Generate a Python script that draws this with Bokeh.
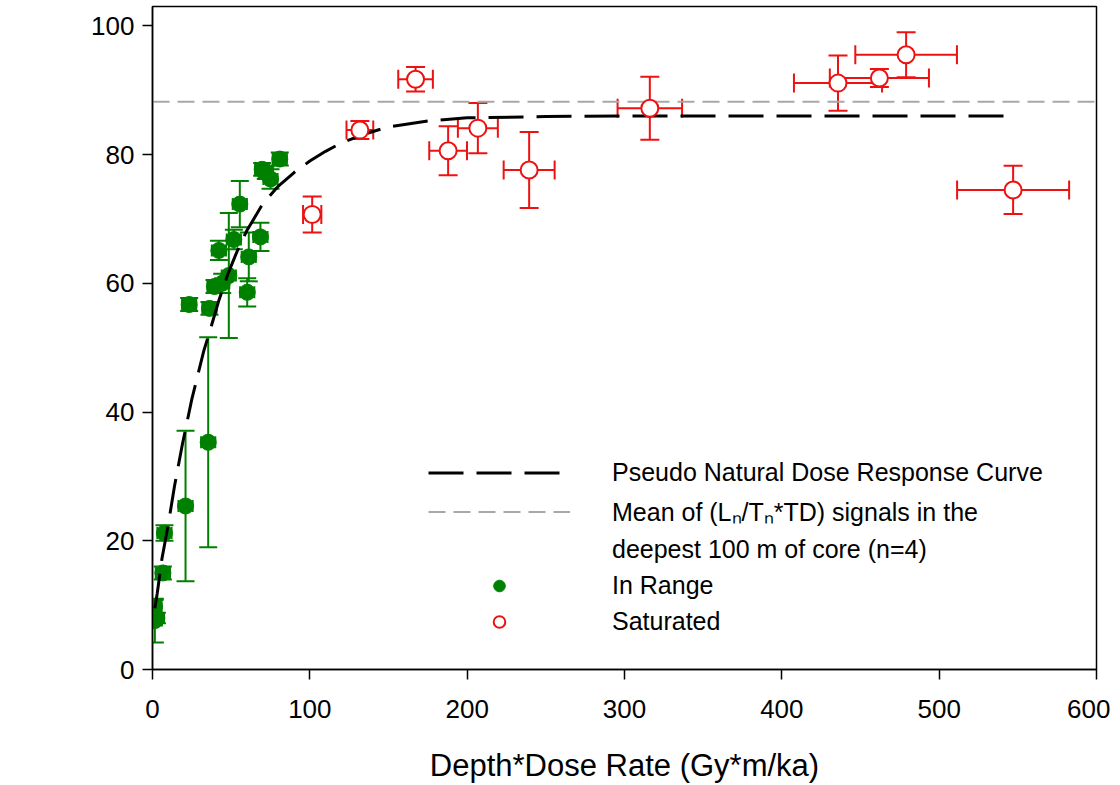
from bokeh.plotting import figure
from bokeh.models import (ColumnDataSource, Whisker, TeeHead, Legend, LegendItem,
                          FixedTicker, Range1d)
from bokeh.embed import file_html
from bokeh.resources import INLINE

# ---- In-range points (green) ----
in_x    = [1.3, 1.5, 2.8, 6.6, 7.6, 21.0, 35.4, 23.3, 36.2, 39.4, 44.3, 48.5, 42.2, 51.7, 55.5, 61.2, 60.2, 68.6, 69.7, 72.0, 75.0, 80.9]
in_y    = [9.8, 7.6, 8.0, 15.0, 21.2, 25.4, 35.3, 56.7, 56.1, 59.5, 60.0, 61.2, 65.1, 66.8, 72.3, 64.1, 58.6, 67.2, 77.7, 77.2, 76.2, 79.3]
in_yerr = [1.0, 3.4, 0.8, 1.0, 1.2, 11.7, 16.3, 1.0, 1.0, 1.0, 1.5, 9.7, 1.5, 1.5, 3.6, 3.8, 2.2, 2.2, 1.0, 1.0, 1.5, 1.0]
in_xerr = [4.5] * len(in_x)

# ---- Saturated points (red) ----
sat_x    = [101.5, 131.8, 167.2, 187.9, 206.8, 239.4, 316.1, 435.7, 462.0, 479.0, 547.0]
sat_y    = [70.7, 83.8, 91.7, 80.6, 84.1, 77.6, 87.2, 91.1, 91.9, 95.5, 74.5]
sat_xerr = [5.8, 8.5, 11.0, 12.0, 12.7, 16.2, 20.5, 28.0, 31.5, 32.3, 35.6]
sat_yerr = [2.8, 1.4, 1.9, 3.8, 3.9, 5.9, 4.9, 4.3, 1.4, 3.5, 3.75]

# ---- Pseudo natural dose response curve ----
curve_x = [1.5, 3, 6, 10, 14, 19, 25, 32.6, 36, 42, 48, 54, 60, 70, 80, 90, 100, 110, 120, 135, 150, 175, 200, 250, 300, 400, 548]
curve_y = [9.5, 11.8, 17.2, 22.5, 28.5, 35.0, 42.0, 49.5, 52.2, 57.2, 61.5, 65.1, 68.2, 72.3, 75.1, 77.2, 79.0, 80.5, 81.8, 83.2, 84.3, 85.2, 85.7, 85.9, 86.0, 86.0, 86.0]

# ---- Mean of deepest 100 m ----
mean_signal = 88.2

x_ticks = [0, 100, 200, 300, 400, 500, 600]
y_ticks = [0, 20, 40, 60, 80, 100]
X_MIN, X_MAX = 0, 600
Y_MIN, Y_MAX = 0, 103

FONT = "Liberation Sans"
GREEN = "#008000"
RED = "#ee1111"

p = figure(width=1110, height=785, output_backend="svg", toolbar_location=None,
           x_range=Range1d(X_MIN, X_MAX), y_range=Range1d(Y_MIN, Y_MAX),
           min_border_left=152, min_border_right=14, min_border_top=6,
           min_border_bottom=116, outline_line_color="black", outline_line_width=1.5,
           background_fill_color="white", border_fill_color="white")
p.xgrid.visible = False
p.ygrid.visible = False

for ax in (p.xaxis[0], p.yaxis[0]):
    ax.axis_line_width = 1.5
    ax.major_tick_line_width = 1.5
    ax.major_tick_out = 10
    ax.major_tick_in = 0
    ax.minor_tick_out = 0
    ax.minor_tick_in = 0
    ax.major_label_text_font = FONT
    ax.major_label_text_font_size = "26px"
    ax.major_label_text_color = "black"

p.xaxis.ticker = FixedTicker(ticks=x_ticks)
p.yaxis.ticker = FixedTicker(ticks=y_ticks)
p.xaxis.major_label_standoff = 20
p.yaxis.major_label_standoff = 8
p.xaxis.axis_label = "Depth*Dose Rate (Gy*m/ka)"
p.xaxis.axis_label_text_font = FONT
p.xaxis.axis_label_text_font_size = "31px"
p.xaxis.axis_label_text_font_style = "normal"
p.xaxis.axis_label_text_color = "black"
p.xaxis.axis_label_standoff = 27

# sources
src_in = ColumnDataSource(dict(
    x=in_x, y=in_y,
    yl=[a - b for a, b in zip(in_y, in_yerr)], yu=[a + b for a, b in zip(in_y, in_yerr)],
    xl=[a - b for a, b in zip(in_x, in_xerr)], xu=[a + b for a, b in zip(in_x, in_xerr)]))
src_sat = ColumnDataSource(dict(
    x=sat_x, y=sat_y,
    yl=[a - b for a, b in zip(sat_y, sat_yerr)], yu=[a + b for a, b in zip(sat_y, sat_yerr)],
    xl=[a - b for a, b in zip(sat_x, sat_xerr)], xu=[a + b for a, b in zip(sat_x, sat_xerr)]))

def whisker(src, dim, color, cap):
    if dim == "height":
        w = Whisker(source=src, base="x", lower="yl", upper="yu", dimension="height")
    else:
        w = Whisker(source=src, base="y", lower="xl", upper="xu", dimension="width")
    w.line_color = color
    w.line_width = 2
    w.upper_head = TeeHead(size=cap, line_color=color, line_width=2)
    w.lower_head = TeeHead(size=cap, line_color=color, line_width=2)
    w.level = "underlay"
    p.add_layout(w)

whisker(src_in, "height", GREEN, 18)
whisker(src_in, "width", GREEN, 12)

r_in = p.scatter("x", "y", source=src_in, marker="circle", size=16,
                 fill_color=GREEN, line_color=GREEN)

r_mean = p.line([X_MIN, X_MAX], [mean_signal, mean_signal], line_color="#a8a8a8",
                line_width=2, line_dash="17 8")
r_curve = p.line(curve_x, curve_y, line_color="black", line_width=3, line_dash="35 13")

whisker(src_sat, "height", RED, 19)
whisker(src_sat, "width", RED, 19)
r_sat = p.scatter("x", "y", source=src_sat, marker="circle", size=17,
                  fill_color="white", line_color=RED, line_width=2)

r_blank = p.line([], [], line_alpha=0)

legend = Legend(items=[
    LegendItem(label="Pseudo Natural Dose Response Curve", renderers=[r_curve]),
    LegendItem(label="Mean of (L\u2099/T\u2099*TD) signals in the", renderers=[r_mean]),
    LegendItem(label="deepest 100 m of core (n=4)", renderers=[r_blank]),
    LegendItem(label="In Range", renderers=[r_in]),
    LegendItem(label="Saturated", renderers=[r_sat]),
], location=(276, 33), padding=0, margin=0, spacing=7, glyph_width=142,
    glyph_height=29, label_height=29, label_standoff=42,
    label_text_font=FONT, label_text_font_size="25px", label_text_color="black",
    border_line_color=None, background_fill_alpha=0)
p.add_layout(legend)

open("out.html", "w").write(file_html(p, INLINE))
